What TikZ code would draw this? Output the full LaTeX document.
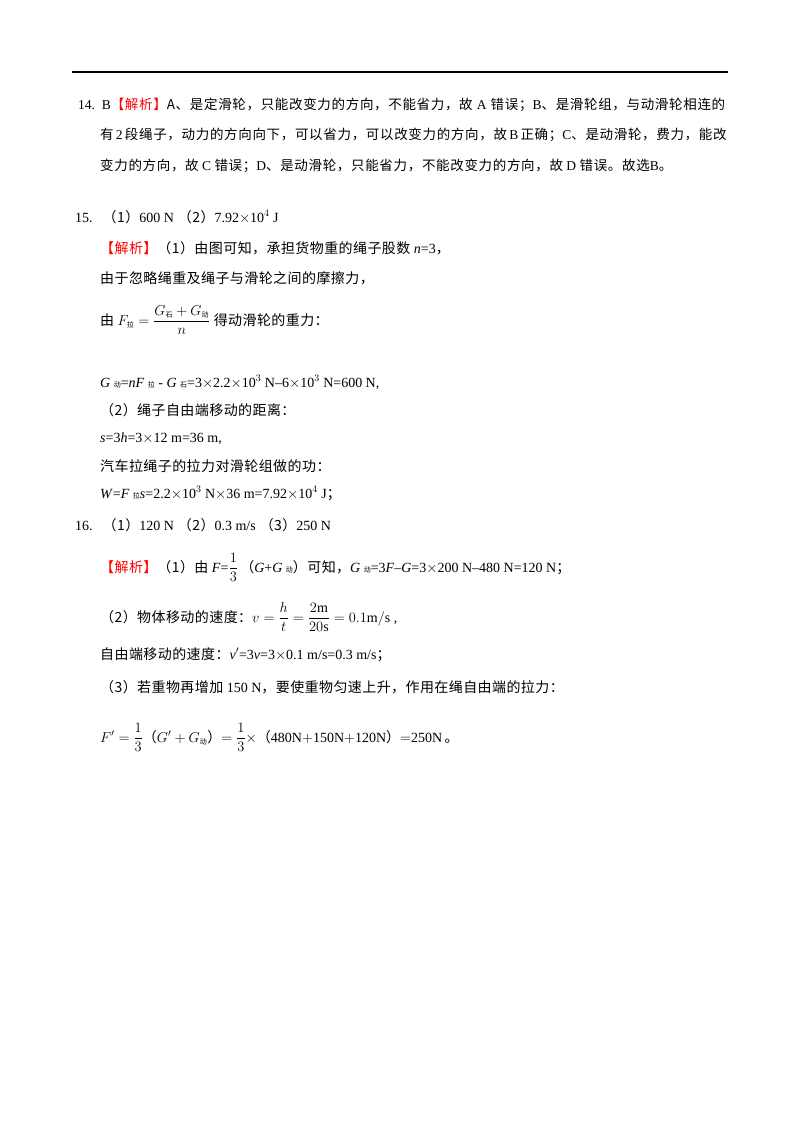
\documentclass[tikz,border=0pt]{standalone}
\usepackage{fontspec}
\setmainfont{Liberation Serif}
\newfontfamily\cjk{Noto Sans CJK SC}[LetterSpace=3]
\newfontfamily\cjkp{Noto Sans CJK SC}[LetterSpace=5]
\newcommand{\zh}[1]{{\cjk #1}}
\newcommand{\zp}[1]{{\cjkp #1}}
\newcommand{\jx}{\textcolor{red}{\zh{【解析】}}}
\newcommand{\sbz}[1]{{\fontsize{7}{7}\selectfont\cjk #1}}
\begin{document}
\begin{tikzpicture}[x=1pt,y=-1pt,
  every node/.style={inner sep=0pt,anchor=base west,font=\fontsize{14}{14}\selectfont}]
\useasboundingbox (0,0) rectangle (800,1132);
\draw[line width=1.2pt] (72,72) -- (728,72);
% 14
\node[text width=647,align=justify,font=\fontsize{13.5}{30.5}\selectfont] (p14) at (78,109)
 {14. B\textcolor{red}{\zp{【解析】}}\zp{A、是定滑轮，只能改变力的方向，不能省力，故} A \zp{错误；}B\zp{、是滑轮组，与动滑轮相连的}\linebreak
 \hspace*{22pt}\zp{有} 2 \zp{段绳子，动力的方向向下，可以省力，可以改变力的方向，故} B \zp{正确；}C\zp{、是动滑轮，费力，能改}\linebreak
 \hspace*{22pt}\zp{变力的方向，故} C \zp{错误；}D\zp{、是动滑轮，只能省力，不能改变力的方向，故} D \zp{错误。故选}B\zp{。}};
% 15
\node (a15) at (75,222) {15.\hspace{10pt}\zh{（1）}600 N\hspace{4pt}\zh{（2）}7.92$\times$10$^4$ J};
\node (b15) at (100,253) {\jx\zh{（1）由图可知，承担货物重的绳子股数} \textit{n}=3\zh{，}};
\node (c15) at (100,283) {\zh{由于忽略绳重及绳子与滑轮之间的摩擦力，}};
\node (d15) at (100,325) {\zh{由} $\displaystyle F_{\mbox{\sbz{拉}}}=\frac{G_{\mbox{\sbz{石}}}+G_{\mbox{\sbz{动}}}}{n}$ \zh{得动滑轮的重力：}};
\node (e15) at (100,387) {\textit{G} \sbz{动}=\textit{nF} \sbz{拉} - \textit{G} \sbz{石}=3$\times$2.2$\times$10$^3$ N–6$\times$10$^3$ N=600 N,};
\node (f15) at (100,415) {\zh{（2）绳子自由端移动的距离：}};
\node (g15) at (100,442) {\textit{s}=3\textit{h}=3$\times$12 m=36 m,};
\node (h15) at (100,471) {\zh{汽车拉绳子的拉力对滑轮组做的功：}};
\node (i15) at (100,498) {\textit{W}=\textit{F} \sbz{拉}\textit{s}=2.2$\times$10$^3$ N$\times$36 m=7.92$\times$10$^4$ J\zh{；}};
% 16
\node (a16) at (75,530) {16.\hspace{10pt}\zh{（1）}120 N\hspace{4pt}\zh{（2）}0.3 m/s\hspace{4pt}\zh{（3）}250 N};
\node (b16) at (100,572) {\jx\zh{（1）由} \textit{F}=$\displaystyle\frac{1}{3}$\,\zh{（}\textit{G}+\textit{G} \sbz{动}\zh{）可知，}\textit{G} \sbz{动}=3\textit{F}–\textit{G}=3$\times$200 N–480 N=120 N\zh{；}};
\node (c16) at (100,622) {\zh{（2）物体移动的速度：}$\displaystyle v=\frac{h}{t}=\frac{2\mathrm{m}}{20\mathrm{s}}=0.1\mathrm{m/s}$ ,};
\node (d16) at (100,659) {\zh{自由端移动的速度：}\textit{v}$'$=3\textit{v}=3$\times$0.1 m/s=0.3 m/s\zh{；}};
\node (e16) at (100,692) {\zh{（3）若重物再增加} 150 N\zh{，要使重物匀速上升，作用在绳自由端的拉力：}};
\node (f16) at (100,742) {$\displaystyle F'=\frac{1}{3}$\zh{（}$G'+G_{\mbox{\sbz{动}}}$\zh{）}$\displaystyle=\frac{1}{3}\times$\zh{（}480N$+$150N$+$120N\zh{）}$=$250N\,\zh{。}};
\end{tikzpicture}
\end{document}
